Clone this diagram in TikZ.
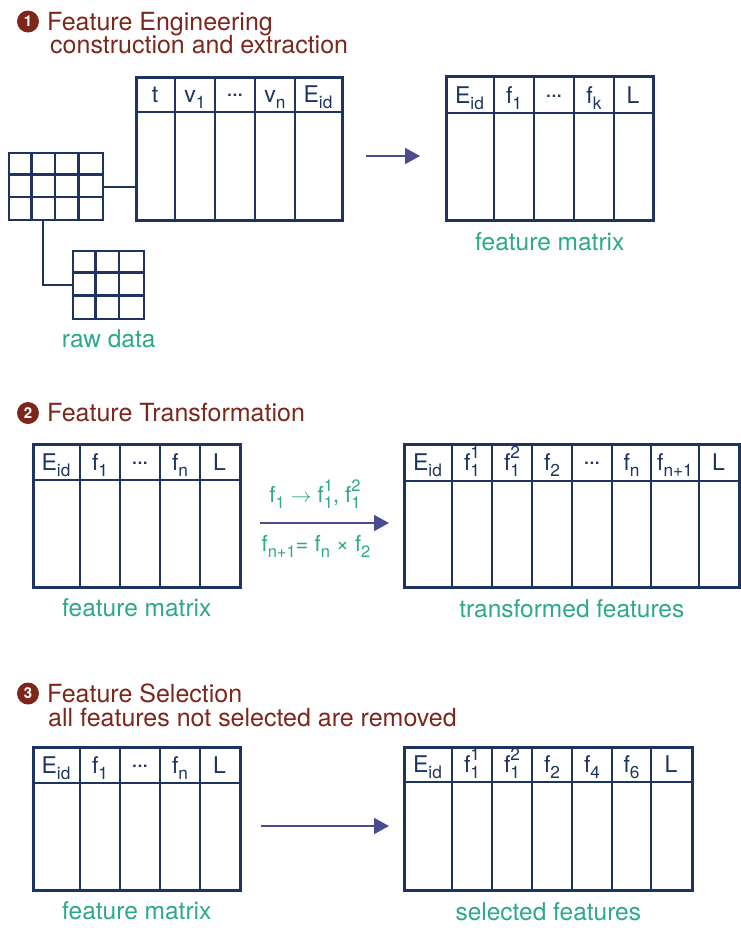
\documentclass[tikz,border=0pt]{standalone}
\usepackage{amsmath}
\usepackage{fontspec}
\setmainfont{TeX Gyre Heros}
\usetikzlibrary{arrows.meta}
\definecolor{navy}{RGB}{30,52,96}
\definecolor{hdred}{RGB}{125,38,28}
\definecolor{lblgreen}{RGB}{45,168,138}
\definecolor{arrowc}{RGB}{74,75,145}
\makeatletter
\newcommand{\smallsz}{\fontsize{\strip@pt\dimexpr\f@size pt*3/4\relax}{0pt}\selectfont}
\makeatother
\newcommand{\lsub}[2]{#1\raisebox{-0.28em}{\smallsz #2}}
\newcommand{\lsubsup}[3]{#1\rlap{\raisebox{0.5em}{\smallsz #3}}\raisebox{-0.28em}{\smallsz #2}}
\newcommand{\cdts}{\raisebox{0.22em}{.\kern-1pt.\kern-1pt.}}

\begin{document}
\begin{tikzpicture}[x=1pt, y=-1pt,
  frame/.style={draw=navy, line width=2.6pt, anchor=north west, inner sep=0pt},
  inner/.style={draw=navy, line width=1.3pt},
  cell/.style={draw=navy, line width=2.2pt},
  hdr/.style={anchor=base, inner sep=0pt, text=navy, font=\fontsize{23}{26}\selectfont},
  title/.style={anchor=base west, inner sep=0pt, text=hdred, font=\fontsize{25}{28}\selectfont},
  badge/.style={circle, fill=hdred, text=white, inner sep=0pt, minimum size=22pt, font=\fontsize{15}{15}\selectfont\bfseries},
  lbl/.style={anchor=base, inner sep=0pt, text=lblgreen, font=\fontsize{24.5}{28}\selectfont},
  alab/.style={anchor=base, inner sep=0pt, text=lblgreen, font=\fontsize{22}{24}\selectfont},
  arr/.style={draw=arrowc, line width=2pt, -{Triangle[length=15pt,width=16pt]}}]
\useasboundingbox (0,0) rectangle (741,930);

% 1: construction and extraction
\node[badge] (n1) at (28,21.5) {1};
\node[title] (t1) at (47,30) {Feature Engineering};
\node[title] (t1b) at (50,53.5) {construction and extraction};

\node[frame, draw=navy, line width=2.4pt, minimum width=94pt, minimum height=67pt] (raw1) at (8,152) {};
\foreach \cx in {31.5,55,78.5} \draw[cell] (raw1.north -| \cx,0) -- (raw1.south -| \cx,0);
\foreach \cy in {174.5,197} \draw[cell] (raw1.west |- 0,\cy) -- (raw1.east |- 0,\cy);
\node[frame, draw=navy, line width=2.4pt, minimum width=71pt, minimum height=68pt] (raw2) at (72,250) {};
\foreach \cx in {95.5,119} \draw[cell] (raw2.north -| \cx,0) -- (raw2.south -| \cx,0);
\foreach \cy in {272.5,295.5} \draw[cell] (raw2.west |- 0,\cy) -- (raw2.east |- 0,\cy);
\node[lbl] (raw-l) at ([yshift=-27pt]raw2.south) {raw data};

\node[frame, minimum width=206pt, minimum height=143pt] (ce) at (135,76) {};
\draw[inner] (ce.west |- 0,112) -- (ce.east |- 0,112);
\foreach \cx in {175,215,255,295} \draw[inner] (ce.north -| \cx,0) -- (ce.south -| \cx,0);
\foreach \cx/\lab [count=\i] in {155/t, 195/\lsub{v}{1}, 235/\cdts, 275/\lsub{v}{n}, 318/\lsub{E}{id}}
  \node[hdr] (ce-\i) at (\cx,102) {\lab};

\draw[cell, line width=2pt] (raw1.east) -- (raw1.east -| ce.west);
\draw[cell, line width=2pt] ([xshift=35pt]raw1.south west) |- (raw2.west);

\coordinate (a1s) at (366,156);
\coordinate (a1e) at (420,156);
\draw[arr] (a1s) -- (a1e);

\node[frame, minimum width=207pt, minimum height=144pt] (fm1) at (445,75) {};
\draw[inner] (fm1.west |- 0,113) -- (fm1.east |- 0,113);
\foreach \cx in {494,534,574,614} \draw[inner] (fm1.north -| \cx,0) -- (fm1.south -| \cx,0);
\foreach \cx/\lab [count=\i] in {469.5/\lsub{E}{id}, 514/\lsub{f}{1}, 554/\cdts, 594/\lsub{f}{k}, 633/L}
  \node[hdr] (fm1-\i) at (\cx,103) {\lab};
\node[lbl] (fm1-l) at ([yshift=-29pt]fm1.south) {feature matrix};

% 2: transformation
\node[badge] (n2) at (28,413) {2};
\node[title] (t2) at (47,421.5) {Feature Transformation};

\node[frame, minimum width=207pt, minimum height=143pt] (fm2) at (32,443) {};
\draw[inner] (fm2.west |- 0,480) -- (fm2.east |- 0,480);
\foreach \cx in {80,120,160,200} \draw[inner] (fm2.north -| \cx,0) -- (fm2.south -| \cx,0);
\foreach \cx/\lab [count=\i] in {56/\lsub{E}{id}, 100/\lsub{f}{1}, 140/\cdts, 180/\lsub{f}{n}, 219.5/L}
  \node[hdr] (fm2-\i) at (\cx,470) {\lab};
\node[lbl] (fm2-l) at ([yshift=-28pt]fm2.south) {feature matrix};

\coordinate (a2s) at (260,523);
\coordinate (a2e) at (389,523);
\draw[arr] (a2s) -- (a2e);
\node[alab] (a2-t) at (315,502.5) {\lsub{f}{1} $\rightarrow$ \lsubsup{f}{1}{1}, \lsubsup{f}{1}{2}};
\node[alab] (a2-b) at (316,551) {\lsub{f}{n+1}= \lsub{f}{n} \char"00D7\ \lsub{f}{2}};

\node[frame, minimum width=335pt, minimum height=143pt] (tf) at (403,443) {};
\draw[inner] (tf.west |- 0,481) -- (tf.east |- 0,481);
\foreach \cx in {452,492,532,572,612,651,699} \draw[inner] (tf.north -| \cx,0) -- (tf.south -| \cx,0);
\foreach \cx/\lab [count=\i] in {427.5/\lsub{E}{id}, 472/\lsubsup{f}{1}{1}, 512/\lsubsup{f}{1}{2}, 552/\lsub{f}{2},
    592/\cdts, 631.5/\lsub{f}{n}, 675/\lsub{f}{n+1}, 718.5/L}
  \node[hdr] (tf-\i) at (\cx,470) {\lab};
\node[lbl] (tf-l) at ([yshift=-29pt]tf.south) {transformed features};

% 3: selection
\node[badge] (n3) at (28,693.5) {3};
\node[title] (t3) at (47,702) {Feature Selection};
\node[title] (t3b) at (48,726) {all features not selected are removed};

\node[frame, minimum width=207pt, minimum height=143pt] (fm3) at (32,746) {};
\draw[inner] (fm3.west |- 0,783) -- (fm3.east |- 0,783);
\foreach \cx in {80,120,160,200} \draw[inner] (fm3.north -| \cx,0) -- (fm3.south -| \cx,0);
\foreach \cx/\lab [count=\i] in {56/\lsub{E}{id}, 100/\lsub{f}{1}, 140/\cdts, 180/\lsub{f}{n}, 219.5/L}
  \node[hdr] (fm3-\i) at (\cx,773) {\lab};
\node[lbl] (fm3-l) at ([yshift=-28pt]fm3.south) {feature matrix};

\coordinate (a3s) at (261,826);
\coordinate (a3e) at (389,826);
\draw[arr] (a3s) -- (a3e);

\node[frame, minimum width=288pt, minimum height=143pt] (sel) at (403,746) {};
\draw[inner] (sel.west |- 0,782) -- (sel.east |- 0,782);
\foreach \cx in {452,492,532,572,612,651} \draw[inner] (sel.north -| \cx,0) -- (sel.south -| \cx,0);
\foreach \cx/\lab [count=\i] in {427.5/\lsub{E}{id}, 472/\lsubsup{f}{1}{1}, 512/\lsubsup{f}{1}{2}, 552/\lsub{f}{2},
    592/\lsub{f}{4}, 631.5/\lsub{f}{6}, 671/L}
  \node[hdr] (sel-\i) at (\cx,772) {\lab};
\node[lbl] (sel-l) at ([yshift=-29pt]sel.south) {selected features};
\end{tikzpicture}
\end{document}
